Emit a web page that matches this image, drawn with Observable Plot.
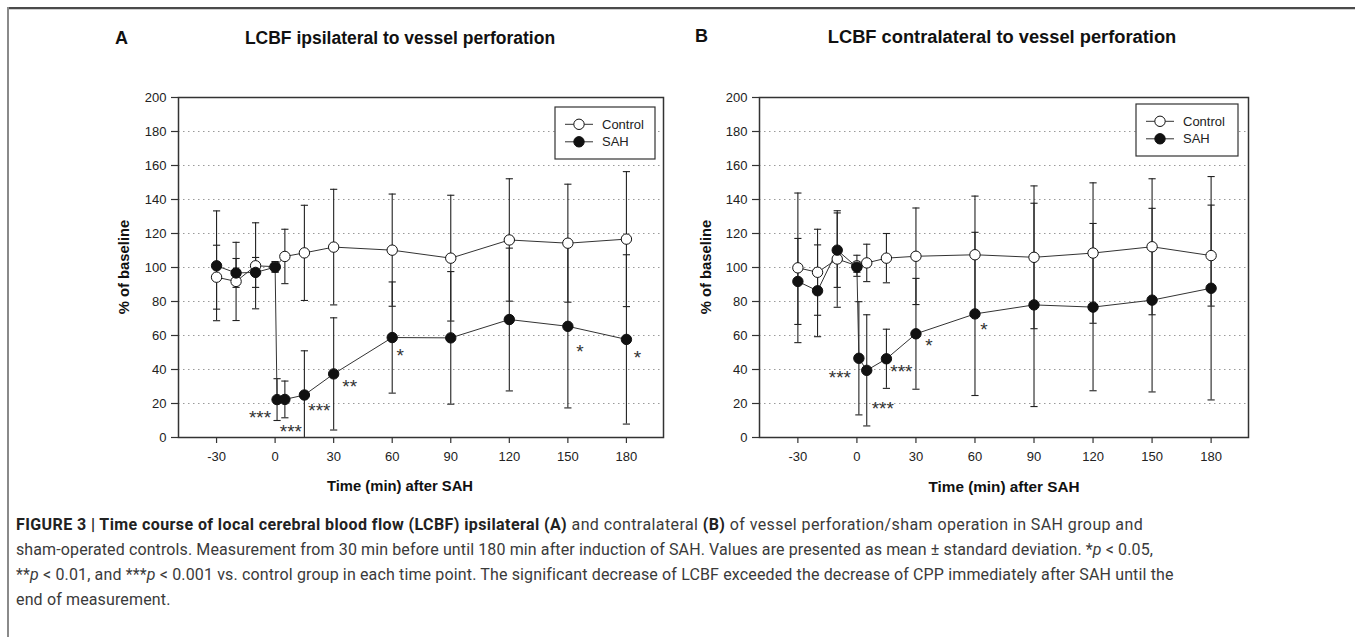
<!DOCTYPE html>
<html>
<head>
<meta charset="utf-8">
<script src="https://cdn.jsdelivr.net/npm/d3@7"></script>
<script src="https://cdn.jsdelivr.net/npm/@observablehq/plot@0.6"></script>
<style>
  html, body { margin: 0; padding: 0; background: #fff; }
  #fig { position: relative; width: 1355px; height: 637px; overflow: hidden; background: #fff;
         font-family: "Liberation Sans", Arial, sans-serif; color: #111; }
  .abs { position: absolute; white-space: nowrap; }
  .panel-letter { font-weight: bold; font-size: 18px; line-height: 1; }
  .ptitle { font-weight: bold; font-size: 17.5px; line-height: 1; transform: translateX(-50%); }
  .xtitle { font-weight: bold; font-size: 14.8px; line-height: 1; transform: translate(-50%, -50%); }
  .ytitle { font-weight: bold; font-size: 14.8px; line-height: 1; transform: translate(-50%, -50%) rotate(-90deg); }
  .cap { font-family: Roboto, "Liberation Sans", sans-serif; font-size: 16px; line-height: 25px; color: #3a3a3a; left: 16px; }
  .cap b { color: #222; font-weight: bold; }
</style>
</head>
<body>
<div id="fig"></div>
<script>
// ---------------- data ----------------
const xTicks = [-30, 0, 30, 60, 90, 120, 150, 180];
const yTicks = [0, 20, 40, 60, 80, 100, 120, 140, 160, 180, 200];
const gridTicks = [20, 40, 60, 80, 100, 120, 140, 160, 180];

// Panel A: LCBF ipsilateral
const ctrlTimesA = [-30, -20, -10, 0, 5, 15, 30, 60, 90, 120, 150, 180];
const ctrlMeanA  = [94.3, 91.8, 101, 100.5, 106.5, 108.6, 112, 110.2, 105.5, 116.2, 114.3, 116.7];
const ctrlSdA    = [18.8, 23, 25.3, 3, 16, 28, 34, 33, 37, 36, 34.7, 39.7];
const sahTimesA  = [-30, -20, -10, 0, 1, 5, 15, 30, 60, 90, 120, 150, 180];
const sahMeanA   = [101, 96.8, 97.1, 100.2, 22.3, 22.4, 25, 37.4, 58.8, 58.6, 69.4, 65.4, 57.7];
const sahSdA     = [32.3, 8.5, 8.8, 3, 12.3, 10.8, 26, 33, 32.7, 39, 42, 48, 49.8];
const sigTimesA  = [1, 5, 15, 30, 60, 150, 180];
const sigLabelsA = ["***", "***", "***", "**", "*", "*", "*"];

// Panel B: LCBF contralateral
const ctrlTimesB = [-30, -20, -10, 0, 5, 15, 30, 60, 90, 120, 150, 180];
const ctrlMeanB  = [99.8, 97.2, 105, 101, 102.7, 105.5, 106.6, 107.5, 106, 108.5, 112.2, 107];
const ctrlSdB    = [44, 25.3, 28.4, 6.2, 11, 14.5, 28.4, 34.5, 42, 41.3, 40, 29.7];
const sahTimesB  = [-30, -20, -10, 0, 1, 5, 15, 30, 60, 90, 120, 150, 180];
const sahMeanB   = [91.8, 86.3, 110.2, 100.2, 46.6, 39.5, 46.3, 61, 72.7, 78, 76.7, 80.8, 87.8];
const sahSdB     = [25.3, 27, 21.9, 3, 33.3, 32.7, 17.4, 32.6, 48, 59.8, 49.2, 54, 65.7];
const sigTimesB  = [1, 5, 15, 30, 60];
const sigLabelsB = ["***", "***", "***", "*", "*"];

const seriesNames = ["Control", "SAH"];

// ---------------- layout / style (not data) ----------------
const starOffsetsA = [[-17, 14], [6, 28], [15, 11], [16, 8], [8, 14], [12, 21], [11, 14]];
const starOffsetsB = [[-19, 15], [16, 34], [15, 8], [13, 7], [9, 11]];

const fig = document.getElementById("fig");

function el(cls, html, css) {
  const d = document.createElement("div");
  d.className = "abs " + cls;
  d.innerHTML = html;
  Object.assign(d.style, css);
  fig.appendChild(d);
  return d;
}

// outer figure frame
el("", "", {left: "7px", top: "7px", width: "1348px", height: "2px", background: "#4a4a4a"});
el("", "", {left: "7px", top: "9px", width: "1348px", height: "1px", background: "#cfcfcf"});
el("", "", {left: "7px", top: "7px", width: "2px", height: "630px", background: "#8a8a8a"});

const rows = (ts, ms, sds) => ts.map((t, i) => ({t, m: ms[i], sd: sds[i]}));

const capSymbol = {
  draw(context, size) {
    const r = Math.sqrt(size / Math.PI);
    context.moveTo(-r, 0);
    context.lineTo(r, 0);
  }
};

function panel(cfg) {
  const ctrl = rows(cfg.ctrlT, cfg.ctrlM, cfg.ctrlSd);
  const sah = rows(cfg.sahT, cfg.sahM, cfg.sahSd);
  const all = ctrl.concat(sah);
  const caps = all.flatMap(d => [{t: d.t, y: d.m - d.sd}, {t: d.t, y: d.m + d.sd}]);
  const starMarks = cfg.sigT.map((t, i) => {
    const p = sah.find(d => d.t === t);
    return Plot.text([{t, m: p.m, label: cfg.sigL[i]}], {
      x: "t", y: "m", text: "label",
      dx: cfg.starOff[i][0], dy: cfg.starOff[i][1] + 4.8,
      fontSize: 19, fill: "#333", textAnchor: "middle", lineAnchor: "middle",
      fontFamily: "'Liberation Sans', Arial, sans-serif"
    });
  });
  const svg = Plot.plot({
    width: 600, height: 400,
    marginLeft: cfg.ml, marginRight: cfg.mr, marginTop: 17, marginBottom: 43,
    x: {domain: [-49.5, 199]},
    y: {domain: [0, 200]},
    style: {fontFamily: "'Liberation Sans', Arial, sans-serif", fontSize: "13px", background: "transparent", overflow: "visible"},
    marks: [
      Plot.gridY(gridTicks, {stroke: "#9a9a9a", strokeOpacity: 1, strokeDasharray: "1.5,3.5", strokeWidth: 1}),
      Plot.ruleX(all, {x: "t", y1: d => d.m - d.sd, y2: d => d.m + d.sd, stroke: "#222", strokeWidth: 1.1, clip: true}),
      Plot.dot(caps, {x: "t", y: "y", symbol: capSymbol, r: 3.6, stroke: "#222", strokeWidth: 1.1, fill: "none", clip: true}),
      Plot.line(ctrl, {x: "t", y: "m", stroke: "#333", strokeWidth: 1}),
      Plot.line(sah, {x: "t", y: "m", stroke: "#333", strokeWidth: 1}),
      Plot.dot(ctrl, {x: "t", y: "m", r: 5.2, fill: "white", stroke: "#111", strokeWidth: 1}),
      Plot.dot(sah, {x: "t", y: "m", r: 5.2, fill: "#111", stroke: "#111", strokeWidth: 1}),
      ...starMarks,
      Plot.frame({stroke: "#333", strokeWidth: 1.5}),
      Plot.axisY({ticks: yTicks, tickFormat: d => String(d), tickSize: 7, tickPadding: 5, label: null, fill: "#222", stroke: "#333", strokeWidth: 1.2}),
      Plot.axisX({ticks: xTicks, tickFormat: d => String(d), tickSize: 6, tickPadding: 8, label: null, fill: "#222", stroke: "#333", strokeWidth: 1.2})
    ]
  });
  svg.style.position = "absolute";
  svg.style.left = cfg.left + "px";
  svg.style.top = "80px";
  fig.appendChild(svg);
}

panel({left: 100, ml: 78, mr: 37,
  ctrlT: ctrlTimesA, ctrlM: ctrlMeanA, ctrlSd: ctrlSdA,
  sahT: sahTimesA, sahM: sahMeanA, sahSd: sahSdA,
  sigT: sigTimesA, sigL: sigLabelsA, starOff: starOffsetsA});
panel({left: 680, ml: 79, mr: 32,
  ctrlT: ctrlTimesB, ctrlM: ctrlMeanB, ctrlSd: ctrlSdB,
  sahT: sahTimesB, sahM: sahMeanB, sahSd: sahSdB,
  sigT: sigTimesB, sigL: sigLabelsB, starOff: starOffsetsB});

// legends
function legend(x0, y0, w, h, items) {
  const svg = d3.create("svg").attr("width", w + 2).attr("height", h + 2)
    .style("position", "absolute").style("left", (x0 - 1) + "px").style("top", (y0 - 1) + "px")
    .style("font-family", "'Liberation Sans', Arial, sans-serif").style("font-size", "13px");
  svg.append("rect").attr("x", 1).attr("y", 1).attr("width", w).attr("height", h)
    .attr("fill", "white").attr("stroke", "#333").attr("stroke-width", 1.2);
  items.forEach((it, i) => {
    const y = 1 + 17.3 + i * 17.5;
    svg.append("line").attr("x1", 11).attr("x2", 39).attr("y1", y).attr("y2", y).attr("stroke", "#333");
    svg.append("circle").attr("cx", 25).attr("cy", y).attr("r", 5.2)
      .attr("fill", it.fill).attr("stroke", "#111");
    svg.append("text").attr("x", 48).attr("y", y).attr("dy", "0.36em").attr("fill", "#222").text(it.name);
  });
  fig.appendChild(svg.node());
}
legend(555, 107, 100, 52, [{name: seriesNames[0], fill: "white"}, {name: seriesNames[1], fill: "#111"}]);
legend(1136, 104, 102, 52, [{name: seriesNames[0], fill: "white"}, {name: seriesNames[1], fill: "#111"}]);

// titles and axis titles
el("panel-letter", "A", {left: "115px", top: "29px"});
el("panel-letter", "B", {left: "695px", top: "27px"});
el("ptitle", "LCBF ipsilateral to vessel perforation", {left: "400px", top: "30px"});
el("ptitle", "LCBF contralateral to vessel perforation", {left: "1002px", top: "27.5px", fontSize: "18.3px"});
el("xtitle", "Time (min) after SAH", {left: "400px", top: "486px"});
el("xtitle", "Time (min) after SAH", {left: "1004px", top: "487px", fontSize: "15.3px"});
el("ytitle", "% of baseline", {left: "124px", top: "267px"});
el("ytitle", "% of baseline", {left: "706px", top: "267px"});

// caption
const capLines = [
  '<b>FIGURE 3 | Time course of local cerebral blood flow (LCBF) ipsilateral (A)</b> and contralateral <b>(B)</b> of vessel perforation/sham operation in SAH group and',
  'sham-operated controls. Measurement from 30 min before until 180 min after induction of SAH. Values are presented as mean \u00b1 standard deviation. *<i>p</i> &lt; 0.05,',
  '**<i>p</i> &lt; 0.01, and ***<i>p</i> &lt; 0.001 vs. control group in each time point. The significant decrease of LCBF exceeded the decrease of CPP immediately after SAH until the',
  'end of measurement.'
];
const capTargets = [1127, 1137, 1157, null];
let lastLs = 0;
capLines.forEach((html, i) => {
  const d = el("cap", html, {top: (511.5 + i * 25.3) + "px"});
  if (capTargets[i]) {
    const natural = d.getBoundingClientRect().width;
    const n = d.textContent.length;
    lastLs = (capTargets[i] - natural) / n;
  }
  d.style.letterSpacing = lastLs + "px";
});
</script>
</body>
</html>
